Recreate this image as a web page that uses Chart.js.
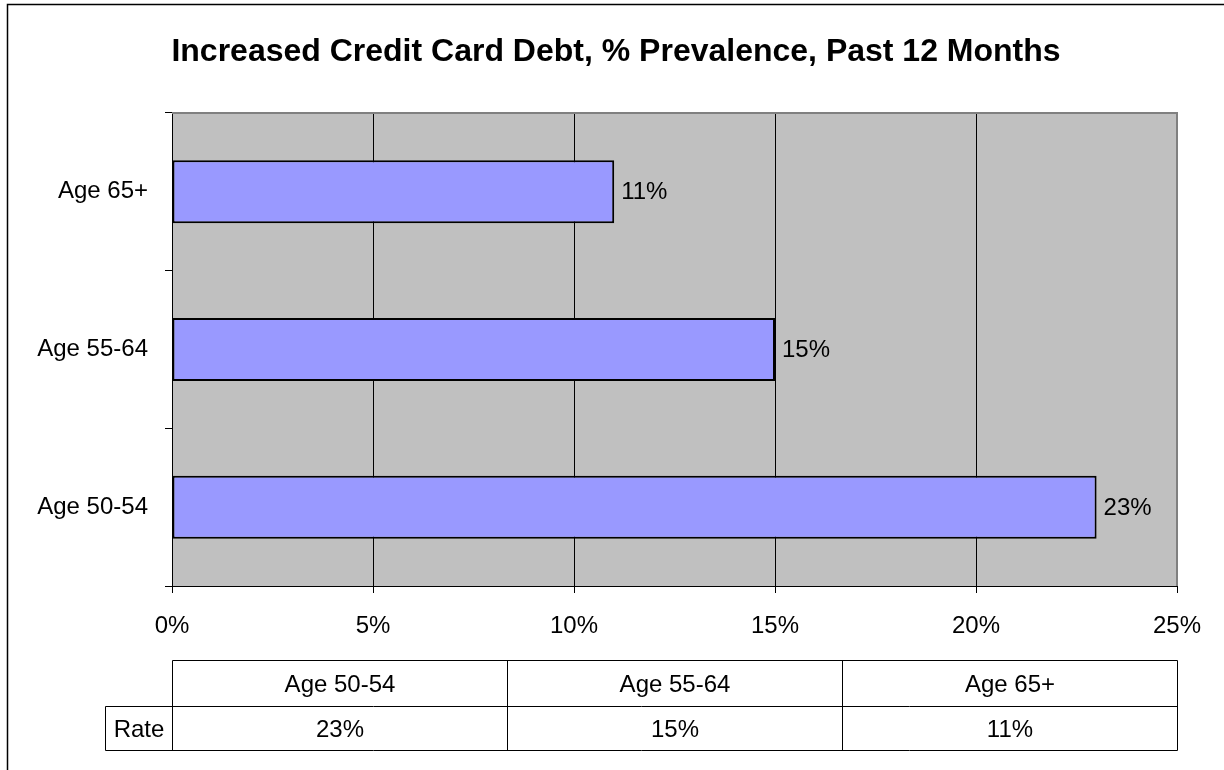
<!DOCTYPE html>
<html>
<head>
<meta charset="utf-8">
<script src="https://cdn.jsdelivr.net/npm/chart.js@4/dist/chart.umd.min.js"></script>
<style>
  html, body { margin: 0; padding: 0; background: #ffffff; }
  canvas { display: block; }
</style>
</head>
<body>
<canvas id="chart" width="1224" height="770"></canvas>
<script>
// Survey results: share reporting increased credit card debt in the past 12 months
const titleText = 'Increased Credit Card Debt, % Prevalence, Past 12 Months';
const categories = ['Age 50-54', 'Age 55-64', 'Age 65+'];
const rates = [23, 15, 11];
const seriesName = 'Rate';
const xTickMax = 25;
const xTickStep = 5;

const FONT = '"Liberation Sans", Arial, Helvetica, sans-serif';

// Frame, plot background, title and the data table below the axis
const decorations = {
  id: 'decorations',
  beforeDraw(chart) {
    const { ctx, chartArea: a } = chart;
    ctx.save();
    ctx.fillStyle = '#ffffff';
    ctx.fillRect(0, 0, chart.width, chart.height);
    // outer frame (left and top edges)
    ctx.strokeStyle = '#000000';
    ctx.lineWidth = 1.5;
    ctx.beginPath();
    ctx.moveTo(7.5, chart.height);
    ctx.lineTo(7.5, 4.5);
    ctx.lineTo(chart.width, 4.5);
    ctx.stroke();
    // plot area fill
    ctx.fillStyle = '#c0c0c0';
    ctx.fillRect(a.left, a.top, a.right - a.left, a.bottom - a.top);
    // title
    ctx.fillStyle = '#000000';
    ctx.font = 'bold 32px ' + FONT;
    ctx.textAlign = 'center';
    ctx.textBaseline = 'alphabetic';
    ctx.fillText(titleText, 616, 61);
    ctx.restore();
  },
  afterDatasetsDraw(chart) {
    const { ctx } = chart;
    const meta = chart.getDatasetMeta(0);
    ctx.save();
    ctx.fillStyle = '#000000';
    ctx.font = '24px ' + FONT;
    ctx.textAlign = 'left';
    ctx.textBaseline = 'middle';
    meta.data.forEach((bar, i) => {
      ctx.fillText(rates[i] + '%', bar.x + 7, bar.y + 1);
    });
    ctx.restore();
  },
  afterDraw(chart) {
    const { ctx, chartArea: a } = chart;
    ctx.save();
    // plot border: top and right edges in grey
    ctx.strokeStyle = '#808080';
    ctx.lineWidth = 2;
    ctx.beginPath();
    ctx.moveTo(a.left, a.top);
    ctx.lineTo(a.right, a.top);
    ctx.lineTo(a.right, a.bottom);
    ctx.stroke();

    // data table
    const top = 660, mid = 706, bottom = 750, labelLeft = 105.5;
    const left = Math.round(a.left) + 0.5;
    const right = Math.round(a.right) + 0.5;
    const colW = (right - left) / categories.length;
    ctx.strokeStyle = '#000000';
    ctx.lineWidth = 1;
    ctx.beginPath();
    ctx.moveTo(left, top + 0.5); ctx.lineTo(right, top + 0.5);
    ctx.moveTo(labelLeft, mid + 0.5); ctx.lineTo(right, mid + 0.5);
    ctx.moveTo(labelLeft, bottom + 0.5); ctx.lineTo(right, bottom + 0.5);
    ctx.moveTo(labelLeft, mid + 0.5); ctx.lineTo(labelLeft, bottom + 0.5);
    for (let i = 0; i <= categories.length; i++) {
      const x = Math.round(left + i * colW - 0.5) + 0.5;
      ctx.moveTo(x, top + 0.5); ctx.lineTo(x, bottom + 0.5);
    }
    ctx.stroke();

    ctx.fillStyle = '#000000';
    ctx.font = '24px ' + FONT;
    ctx.textAlign = 'center';
    ctx.textBaseline = 'middle';
    categories.forEach((c, i) => {
      const cx = left + (i + 0.5) * colW;
      ctx.fillText(c, cx, (top + mid) / 2 + 2);
      ctx.fillText(rates[i] + '%', cx, (mid + bottom) / 2 + 2);
    });
    ctx.fillText(seriesName, (labelLeft + left) / 2, (mid + bottom) / 2 + 2);
    ctx.restore();
  }
};

new Chart(document.getElementById('chart'), {
  type: 'bar',
  data: {
    labels: categories,
    datasets: [{
      label: seriesName,
      data: rates,
      backgroundColor: '#9999ff',
      borderColor: '#000000',
      borderWidth: 2,
      borderSkipped: false,
      categoryPercentage: 1,
      barPercentage: 0.4
    }]
  },
  options: {
    indexAxis: 'y',
    responsive: false,
    animation: false,
    layout: { padding: { left: 0, right: 47, top: 113, bottom: 0 } },
    plugins: {
      legend: { display: false },
      title: { display: false },
      tooltip: { enabled: false }
    },
    scales: {
      x: {
        min: 0,
        max: xTickMax,
        afterFit(scale) { scale.height = 184; },
        ticks: {
          stepSize: xTickStep,
          padding: 19,
          color: '#000000',
          font: { family: FONT, size: 24 },
          callback: v => v + '%'
        },
        grid: {
          color: '#000000',
          lineWidth: 1,
          tickLength: 7,
          drawOnChartArea: true
        },
        border: { color: '#000000', width: 1 }
      },
      y: {
        reverse: true,
        afterFit(scale) { scale.width = 172; },
        ticks: {
          padding: 17,
          color: '#000000',
          font: { family: FONT, size: 24 }
        },
        grid: {
          offset: true,
          drawOnChartArea: false,
          color: '#000000',
          tickLength: 7
        },
        border: { color: '#000000', width: 1 }
      }
    }
  },
  plugins: [decorations]
});
</script>
</body>
</html>
